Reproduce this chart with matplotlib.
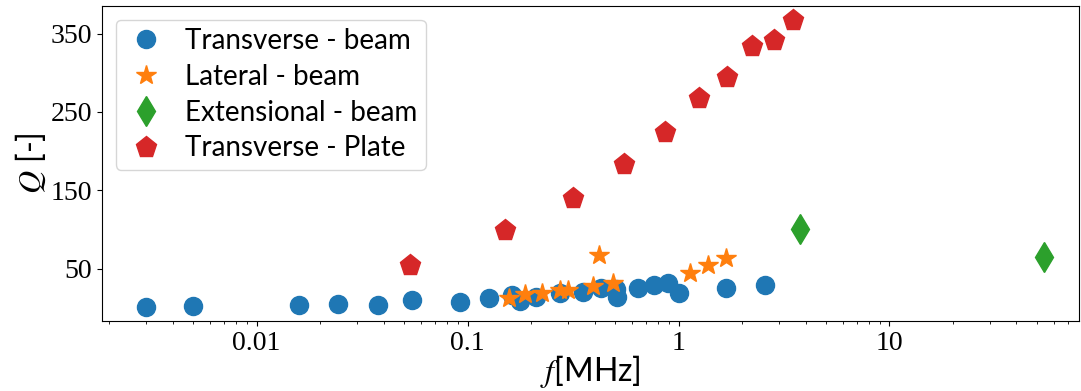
import matplotlib
matplotlib.use('Agg')
import matplotlib.pyplot as plt
from matplotlib.ticker import FixedLocator, FixedFormatter, LogLocator, NullFormatter

plt.rcParams['mathtext.fontset'] = 'stix'

# Transverse - beam
f_tb = [0.003, 0.005, 0.0159, 0.0244, 0.0377, 0.0546, 0.092, 0.1265, 0.163, 0.178,
        0.212, 0.273, 0.353, 0.428, 0.508, 0.51, 0.64, 0.766, 0.893, 1.01, 1.67, 2.56]
q_tb = [1.3, 2.2, 3, 4.3, 3, 9.4, 7.3, 12.8, 16.5, 8.5,
        14, 18.4, 20.4, 24.7, 24.5, 14, 24.7, 29, 31, 19, 24.7, 29]

# Lateral - beam
f_lb = [0.157, 0.188, 0.226, 0.273, 0.3, 0.394, 0.42, 0.49, 1.13, 1.38, 1.67]
q_lb = [12, 17.5, 19, 22.6, 22.6, 27.7, 67, 31, 44.6, 54.5, 63]

# Extensional - beam
f_eb = [3.76, 54]
q_eb = [100, 64.3]

# Transverse - Plate
f_tp = [0.0533, 0.151, 0.315, 0.551, 0.861, 1.25, 1.70, 2.23, 2.82, 3.47]
q_tp = [54.5, 99, 139.5, 183, 224.5, 268, 294, 333.8, 342, 367]

fig = plt.figure(figsize=(10.81, 3.91), dpi=100)
ax = fig.add_axes([0.0944, 0.179, 0.9036, 0.806])

ax.plot(f_tb, q_tb, 'o', color='#1f77b4', markersize=13, label='Transverse - beam')
ax.plot(f_lb, q_lb, '*', color='#ff7f0e', markersize=14.5, label='Lateral - beam')
ax.plot(f_eb, q_eb, 'd', color='#2ca02c', markersize=15.5, label='Extensional - beam')
ax.plot(f_tp, q_tp, 'p', color='#d62728', markersize=15.5, label='Transverse - Plate')

ax.set_xscale('log')
ax.set_xlim(0.00185, 79)
ax.xaxis.set_major_locator(FixedLocator([0.01, 0.1, 1, 10]))
ax.xaxis.set_major_formatter(FixedFormatter(['0.01', '0.1', '1', '10']))
ax.xaxis.set_minor_locator(LogLocator(base=10, subs=range(2, 10), numticks=20))
ax.xaxis.set_minor_formatter(NullFormatter())
ax.set_yticks([50, 150, 250, 350])

for lab in ax.get_xticklabels() + ax.get_yticklabels():
    lab.set_fontfamily('Liberation Serif')
    lab.set_fontsize(20)

ax.set_xlabel('$f$[MHz]', fontsize=23, family='Lato', labelpad=-2)
ax.set_ylabel('$Q$ [-]', fontsize=23, family='Lato', labelpad=2)

ax.legend(loc='upper left', prop={'family': 'Lato', 'size': 20},
          handlelength=1.6, handletextpad=0.6, borderpad=0.3,
          labelspacing=0.35, borderaxespad=0.5)

plt.savefig('out.png', dpi=100)
